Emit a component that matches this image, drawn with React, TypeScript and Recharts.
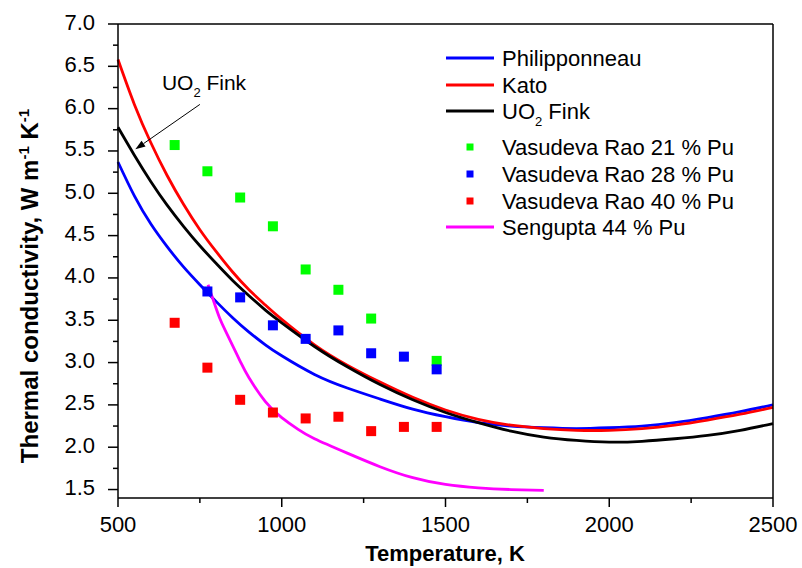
import React from 'react';
import {
  ComposedChart,
  Line,
  Scatter,
  XAxis,
  YAxis,
  ReferenceLine,
} from 'recharts';

const FONT = '"Liberation Sans", Arial, sans-serif';

// model curves share one temperature grid (K)
const modelT = [500, 550, 600, 650, 700, 750, 800, 850, 900, 950, 1000, 1100, 1200, 1300, 1400, 1500, 1600, 1700, 1800, 1900, 2000, 2100, 2200, 2300, 2400, 2500];
const philipponneau = [5.37, 4.97, 4.64, 4.37, 4.13, 3.92, 3.72, 3.53, 3.36, 3.21, 3.08, 2.86, 2.70, 2.57, 2.45, 2.36, 2.29, 2.25, 2.23, 2.22, 2.23, 2.25, 2.29, 2.35, 2.42, 2.50];
const kato = [6.58, 6.05, 5.60, 5.21, 4.87, 4.57, 4.31, 4.07, 3.86, 3.68, 3.51, 3.21, 2.97, 2.77, 2.59, 2.44, 2.33, 2.26, 2.22, 2.20, 2.20, 2.22, 2.26, 2.32, 2.39, 2.47];
const uo2Fink = [5.78, 5.45, 5.14, 4.86, 4.61, 4.38, 4.17, 3.97, 3.79, 3.62, 3.47, 3.19, 2.95, 2.74, 2.56, 2.41, 2.29, 2.19, 2.12, 2.08, 2.06, 2.07, 2.10, 2.14, 2.20, 2.28];

const senguptaT = [775, 790, 810, 830, 850, 875, 900, 950, 1000, 1050, 1100, 1200, 1300, 1400, 1500, 1600, 1700, 1800];
const sengupta = [3.92, 3.75, 3.53, 3.36, 3.20, 3.00, 2.82, 2.54, 2.35, 2.21, 2.10, 1.93, 1.77, 1.64, 1.56, 1.52, 1.50, 1.49];

const rao21T = [673, 773, 873, 973, 1073, 1173, 1273, 1473];
const rao21 = [5.57, 5.26, 4.95, 4.61, 4.10, 3.86, 3.52, 3.02];
const rao28T = [773, 873, 973, 1073, 1173, 1273, 1373, 1473];
const rao28 = [3.84, 3.77, 3.44, 3.28, 3.38, 3.11, 3.07, 2.92];
const rao40T = [673, 773, 873, 973, 1073, 1173, 1273, 1373, 1473];
const rao40 = [3.47, 2.94, 2.56, 2.41, 2.34, 2.36, 2.19, 2.24, 2.24];

const xTicks = [500, 750, 1000, 1250, 1500, 1750, 2000, 2250, 2500];
const yTicks = [1.5, 1.75, 2, 2.25, 2.5, 2.75, 3, 3.25, 3.5, 3.75, 4, 4.25, 4.5, 4.75, 5, 5.25, 5.5, 5.75, 6, 6.25, 6.5, 6.75, 7];

// arrow of the "UO2 Fink" note: [tail, head] in data units
const finkNote = [
  { x: 750, y: 6.05 },
  { x: 553, y: 5.52 },
];

const legendItems = [
  { name: 'Philipponneau', color: '#0000ff', kind: 'line' },
  { name: 'Kato', color: '#ff0000', kind: 'line' },
  { name: 'UO2 Fink', color: '#000000', kind: 'line' },
  { name: 'Vasudeva Rao 21 % Pu', color: '#00ff00', kind: 'square' },
  { name: 'Vasudeva Rao 28 % Pu', color: '#0000ff', kind: 'square' },
  { name: 'Vasudeva Rao 40 % Pu', color: '#ff0000', kind: 'square' },
  { name: 'Sengupta 44 % Pu', color: '#ff00ff', kind: 'line' },
];
const legendRowY = [58, 85, 111, 147, 174, 201, 227];

const toPoints = (ts: number[], ks: number[]) => ts.map((t, i) => ({ t, k: ks[i] }));

const isMajor = (v: number, step: number) => Math.abs(v / step - Math.round(v / step)) < 1e-6;

function YTick(props: any) {
  const { x, y, payload } = props;
  const major = isMajor(payload.value, 0.5);
  return (
    <g>
      <line x1={x - (major ? 10 : 5)} x2={x} y1={y} y2={y} stroke="#000" strokeWidth={1.5} />
      {major && (
        <text x={x - 23} y={y + 5.5} textAnchor="end" fontSize={22} fontFamily={FONT} fill="#000">
          {payload.value.toFixed(1)}
        </text>
      )}
    </g>
  );
}

function XTick(props: any) {
  const { x, y, payload } = props;
  const major = isMajor(payload.value, 500);
  return (
    <g>
      <line x1={x} x2={x} y1={y} y2={y + (major ? 9 : 5)} stroke="#000" strokeWidth={1.5} />
      {major && (
        <text x={x} y={y + 34} textAnchor="middle" fontSize={22} fontFamily={FONT} fill="#000">
          {payload.value}
        </text>
      )}
    </g>
  );
}

function Square(props: any) {
  const { cx, cy, fill } = props;
  return <rect x={cx - 5} y={cy - 5} width={10} height={10} fill={fill} />;
}

function FinkArrow(props: any) {
  const { x1, y1, x2, y2 } = props;
  const ang = Math.atan2(y2 - y1, x2 - x1);
  const len = 10;
  const w = 3.5;
  const bx = x2 - len * Math.cos(ang);
  const by = y2 - len * Math.sin(ang);
  const px = -Math.sin(ang) * w;
  const py = Math.cos(ang) * w;
  return (
    <g>
      <line x1={x1} y1={y1} x2={bx} y2={by} stroke="#000" strokeWidth={1} />
      <polygon points={`${x2},${y2} ${bx + px},${by + py} ${bx - px},${by - py}`} fill="#000" />
      <text x={x1 - 38} y={y1 - 14} fontSize={21} fontFamily={FONT} fill="#000">
        <tspan>UO</tspan>
        <tspan dy={7} fontSize={13}>2</tspan>
        <tspan dy={-7}> Fink</tspan>
      </text>
    </g>
  );
}

function Legend() {
  return (
    <svg
      width={802}
      height={568}
      style={{ position: 'absolute', left: 0, top: 0, pointerEvents: 'none' }}
    >
      {legendItems.map((it, i) => {
        const y = legendRowY[i];
        return (
          <g key={it.name}>
            {it.kind === 'line' ? (
              <line x1={446} x2={494} y1={y} y2={y} stroke={it.color} strokeWidth={3} />
            ) : (
              <rect x={466.5} y={y - 3.5} width={7} height={7} fill={it.color} />
            )}
            <text x={502} y={y + 8} fontSize={22} fontFamily={FONT} fill="#000">
              {it.name === 'UO2 Fink' ? (
                <>
                  <tspan>UO</tspan>
                  <tspan dy={7} fontSize={13}>2</tspan>
                  <tspan dy={-7}> Fink</tspan>
                </>
              ) : (
                it.name
              )}
            </text>
          </g>
        );
      })}
    </svg>
  );
}

function YTitle() {
  const cx = 38;
  const cy = 286;
  return (
    <text
      x={cx}
      y={cy}
      transform={`rotate(-90 ${cx} ${cy})`}
      textAnchor="middle"
      fontSize={24}
      fontWeight="bold"
      fontFamily={FONT}
      fill="#000"
    >
      <tspan>Thermal conductivity, W m</tspan>
      <tspan dy={-9} fontSize={15}>-1</tspan>
      <tspan dy={9}> K</tspan>
      <tspan dy={-9} fontSize={15}>-1</tspan>
    </text>
  );
}

function XTitle() {
  return (
    <text x={445} y={561} textAnchor="middle" fontSize={22} fontWeight="bold" fontFamily={FONT} fill="#000">
      Temperature, K
    </text>
  );
}

export default function App() {
  const lines = [
    { name: 'Philipponneau', color: '#0000ff', data: toPoints(modelT, philipponneau) },
    { name: 'Kato', color: '#ff0000', data: toPoints(modelT, kato) },
    { name: 'UO2 Fink', color: '#000000', data: toPoints(modelT, uo2Fink) },
  ];
  const dots = [
    { name: 'Vasudeva Rao 21 % Pu', color: '#00ff00', data: toPoints(rao21T, rao21) },
    { name: 'Vasudeva Rao 28 % Pu', color: '#0000ff', data: toPoints(rao28T, rao28) },
    { name: 'Vasudeva Rao 40 % Pu', color: '#ff0000', data: toPoints(rao40T, rao40) },
  ];

  return (
    <div style={{ position: 'absolute', left: 0, top: 0, width: 802, height: 568, background: '#fff' }}>
      <ComposedChart width={802} height={568} margin={{ top: 23, right: 28, bottom: 69, left: 0 }}>
        <XAxis
          dataKey="t"
          type="number"
          domain={[500, 2500]}
          ticks={xTicks}
          interval={0}
          axisLine={{ stroke: '#000', strokeWidth: 1.5 }}
          tickLine={false}
          tickSize={0}
          tickMargin={0}
          tick={<XTick />}
          height={1}
          label={<XTitle />}
        />
        <XAxis
          xAxisId="top"
          orientation="top"
          type="number"
          domain={[500, 2500]}
          axisLine={{ stroke: '#000', strokeWidth: 1.5 }}
          tick={false}
          tickLine={false}
          height={1}
        />
        <YAxis
          dataKey="k"
          type="number"
          domain={[1.4, 7]}
          ticks={yTicks}
          interval={0}
          axisLine={{ stroke: '#000', strokeWidth: 1.5 }}
          tickLine={false}
          tickSize={0}
          tickMargin={0}
          tick={<YTick />}
          width={118}
          label={<YTitle />}
        />
        <YAxis
          yAxisId="right"
          orientation="right"
          type="number"
          domain={[1.4, 7]}
          axisLine={{ stroke: '#000', strokeWidth: 1.5 }}
          tick={false}
          tickLine={false}
          width={1}
        />
        {lines.map((s) => (
          <Line
            key={s.name}
            data={s.data}
            dataKey="k"
            name={s.name}
            type="natural"
            stroke={s.color}
            strokeWidth={2.8}
            dot={false}
            activeDot={false}
            isAnimationActive={false}
          />
        ))}
        {dots.map((s) => (
          <Scatter
            key={s.name}
            data={s.data}
            dataKey="k"
            name={s.name}
            fill={s.color}
            shape={<Square />}
            isAnimationActive={false}
          />
        ))}
        <Line
          data={toPoints(senguptaT, sengupta)}
          dataKey="k"
          name="Sengupta 44 % Pu"
          type="natural"
          stroke="#ff00ff"
          strokeWidth={2.8}
          dot={false}
          activeDot={false}
          isAnimationActive={false}
        />
        <ReferenceLine segment={finkNote} shape={<FinkArrow />} ifOverflow="visible" />
      </ComposedChart>
      <Legend />
    </div>
  );
}
